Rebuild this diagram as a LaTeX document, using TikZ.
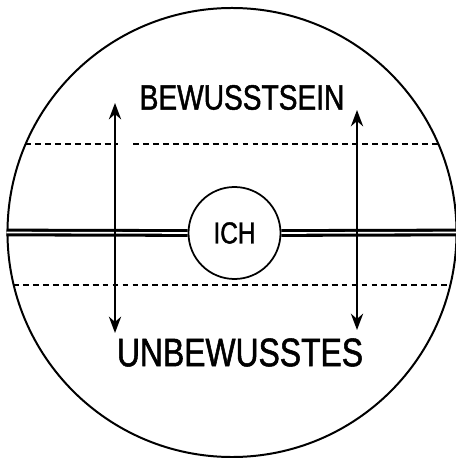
\documentclass[tikz,border=0pt]{standalone}
\usepackage{fontspec}
\newfontfamily\lettering[FakeStretch=0.8, FakeBold=1.3]{Liberation Sans}
\usetikzlibrary{arrows.meta}

\begin{document}
\begin{tikzpicture}[
  x=0.03cm, y=-0.03cm,
  psyche/.style={draw, circle, line width=1.7pt, minimum size=13.47cm, inner sep=0pt},
  egobox/.style={draw, circle, line width=1.5pt, minimum size=2.76cm, inner sep=0pt,
                 font=\lettering\fontsize{26}{26}\selectfont},
  label/.style={font=\lettering\fontsize{#1}{#1}\selectfont, inner sep=0pt},
  divider/.style={double, double distance=1.4pt, line width=2.6pt},
  boundary/.style={line width=1.3pt, dash pattern=on 5pt off 3.5pt},
  arrow/.style={{Stealth[length=14pt, width=10.5pt]}-{Stealth[length=14pt, width=10.5pt]}, line width=1.5pt},
]
  \useasboundingbox (0,0) rectangle (455,458);

  % ---- Circles ----
  \node[psyche] (psyche) at (232,232.5) {};
  \node[egobox] (ich) at (234.5,233) {ICH};

  % ---- Labels ----
  \node[label=30] (bew) at (242,97.5) {BEWUSSTSEIN};
  \node[label=34] (unbew) at (240,352.5) {UNBEWUSSTES};

  % ---- Threshold lines ----
  \draw[boundary] (25,144) -- (118,144);
  \draw[boundary] (133,144) -- (439,144);
  \draw[boundary] (13,285) -- (451,285);

  % ---- Dividing line ----
  \draw[divider] (psyche.west) -- (ich.west);
  \draw[divider] (ich.east) -- (psyche.east);

  % ---- Arrows ----
  \coordinate (la) at (115,103);
  \coordinate (lb) at (115,333);
  \coordinate (ra) at (357,110);
  \coordinate (rb) at (357,330);
  \draw[arrow] (la) -- (lb);
  \draw[arrow] (ra) -- (rb);
\end{tikzpicture}
\end{document}
